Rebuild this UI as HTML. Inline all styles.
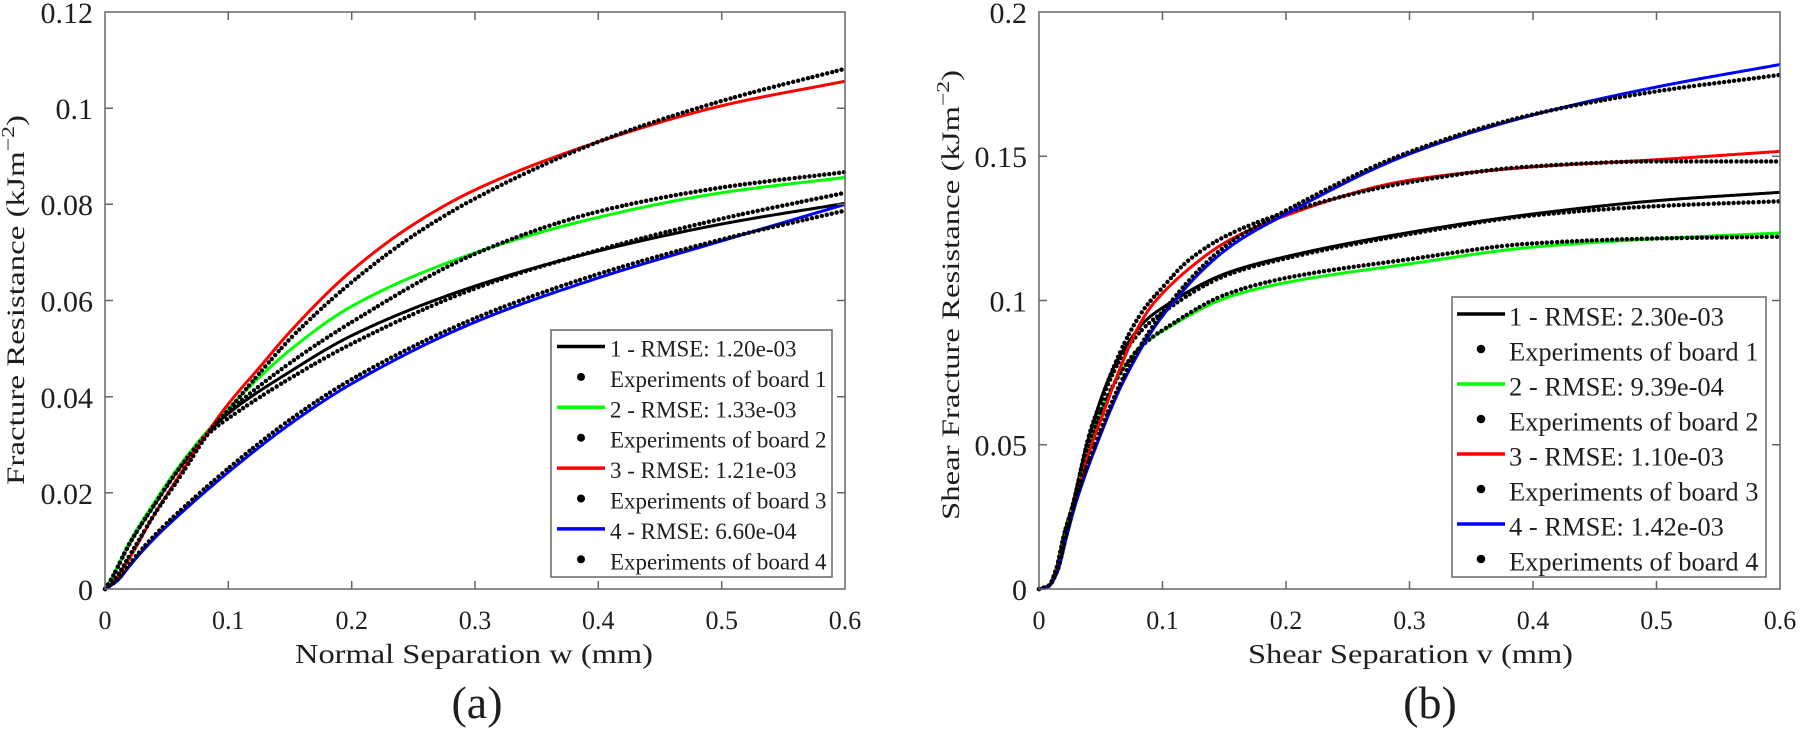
<!DOCTYPE html>
<html><head><meta charset="utf-8">
<style>
html,body{margin:0;padding:0;background:#fff;}
svg{display:block;}
text{font-family:"Liberation Serif","Times New Roman",serif;fill:#1e1e1e;}
</style></head>
<body>
<svg id="s" width="1801" height="732" viewBox="0 0 1801 732" xmlns="http://www.w3.org/2000/svg">
<rect x="0" y="0" width="1801" height="732" fill="#fff"/>
<g id="curvesL"></g>
<g id="curvesR"></g>

<!-- Left axes -->
<g stroke="#666" stroke-width="1.5" fill="none">
  <rect x="105" y="12" width="740" height="577"/>
  <path d="M228.3 589v-8M351.7 589v-8M475 589v-8M598.3 589v-8M721.7 589v-8
           M228.3 12v8M351.7 12v8M475 12v8M598.3 12v8M721.7 12v8
           M105 492.8h8M105 396.7h8M105 300.5h8M105 204.3h8M105 108.2h8
           M845 492.8h-8M845 396.7h-8M845 300.5h-8M845 204.3h-8M845 108.2h-8"/>
</g>
<!-- Right axes -->
<g stroke="#666" stroke-width="1.5" fill="none">
  <rect x="1039" y="12" width="741" height="577"/>
  <path d="M1162.5 589v-8M1286 589v-8M1409.5 589v-8M1533 589v-8M1656.5 589v-8
           M1162.5 12v8M1286 12v8M1409.5 12v8M1533 12v8M1656.5 12v8
           M1039 444.75h8M1039 300.5h8M1039 156.25h8
           M1780 444.75h-8M1780 300.5h-8M1780 156.25h-8"/>
</g>

<!-- Left y tick labels -->
<g font-size="30" text-anchor="end">
  <text x="93" y="600">0</text>
  <text x="93" y="504">0.02</text>
  <text x="93" y="408">0.04</text>
  <text x="93" y="311.5">0.06</text>
  <text x="93" y="215">0.08</text>
  <text x="93" y="119">0.1</text>
  <text x="93" y="23">0.12</text>
</g>
<!-- Left x tick labels -->
<g font-size="26" text-anchor="middle">
  <text x="105" y="629">0</text>
  <text x="228.3" y="629">0.1</text>
  <text x="351.7" y="629">0.2</text>
  <text x="475" y="629">0.3</text>
  <text x="598.3" y="629">0.4</text>
  <text x="721.7" y="629">0.5</text>
  <text x="845" y="629">0.6</text>
</g>
<!-- Right y tick labels -->
<g font-size="30" text-anchor="end">
  <text x="1027" y="600">0</text>
  <text x="1027" y="455.5">0.05</text>
  <text x="1027" y="311.5">0.1</text>
  <text x="1027" y="167">0.15</text>
  <text x="1027" y="23">0.2</text>
</g>
<!-- Right x tick labels -->
<g font-size="26" text-anchor="middle">
  <text x="1039" y="629">0</text>
  <text x="1162.5" y="629">0.1</text>
  <text x="1286" y="629">0.2</text>
  <text x="1409.5" y="629">0.3</text>
  <text x="1533" y="629">0.4</text>
  <text x="1656.5" y="629">0.5</text>
  <text x="1780" y="629">0.6</text>
</g>

<!-- Axis labels -->
<text x="295" y="663" font-size="27" textLength="358" lengthAdjust="spacingAndGlyphs">Normal Separation w (mm)</text>
<text x="1248" y="663" font-size="27" textLength="325" lengthAdjust="spacingAndGlyphs">Shear Separation v (mm)</text>
<text transform="translate(24,485) rotate(-90)" font-size="25" textLength="370" lengthAdjust="spacingAndGlyphs">Fracture Resistance (kJm<tspan dy="-10" font-size="18">−2</tspan><tspan dy="10">)</tspan></text>
<text transform="translate(959,520) rotate(-90)" font-size="25" textLength="450" lengthAdjust="spacingAndGlyphs">Shear Fracture Resistance (kJm<tspan dy="-10" font-size="18">−2</tspan><tspan dy="10">)</tspan></text>

<text x="477" y="718" font-size="46" text-anchor="middle">(a)</text>
<text x="1430" y="718" font-size="46" text-anchor="middle">(b)</text>

<!-- Left legend -->
<g>
  <rect x="551" y="330" width="281" height="247" fill="#fff" stroke="#666" stroke-width="1.5"/>
  <g stroke-width="3.5">
    <line x1="557" y1="346.5" x2="605" y2="346.5" stroke="#000"/>
    <line x1="557" y1="407.3" x2="605" y2="407.3" stroke="#00ff00"/>
    <line x1="557" y1="468.1" x2="605" y2="468.1" stroke="#ff0000"/>
    <line x1="557" y1="528.9" x2="605" y2="528.9" stroke="#0000ff"/>
  </g>
  <g fill="#000">
    <circle cx="581" cy="376.9" r="4"/>
    <circle cx="581" cy="437.7" r="4"/>
    <circle cx="581" cy="498.5" r="4"/>
    <circle cx="581" cy="559.3" r="4"/>
  </g>
  <g font-size="23">
    <text x="610" y="356.5">1 - RMSE: 1.20e-03</text>
    <text x="610" y="386.9">Experiments of board 1</text>
    <text x="610" y="417.3">2 - RMSE: 1.33e-03</text>
    <text x="610" y="447.7">Experiments of board 2</text>
    <text x="610" y="478.1">3 - RMSE: 1.21e-03</text>
    <text x="610" y="508.5">Experiments of board 3</text>
    <text x="610" y="538.9">4 - RMSE: 6.60e-04</text>
    <text x="610" y="569.3">Experiments of board 4</text>
  </g>
</g>

<!-- Right legend -->
<g>
  <rect x="1452" y="297" width="314" height="280" fill="#fff" stroke="#666" stroke-width="1.5"/>
  <g stroke-width="3.5">
    <line x1="1457" y1="314" x2="1505" y2="314" stroke="#000"/>
    <line x1="1457" y1="384" x2="1505" y2="384" stroke="#00ff00"/>
    <line x1="1457" y1="454" x2="1505" y2="454" stroke="#ff0000"/>
    <line x1="1457" y1="524" x2="1505" y2="524" stroke="#0000ff"/>
  </g>
  <g fill="#000">
    <circle cx="1481" cy="349" r="4.3"/>
    <circle cx="1481" cy="419" r="4.3"/>
    <circle cx="1481" cy="489" r="4.3"/>
    <circle cx="1481" cy="559" r="4.3"/>
  </g>
  <g font-size="26.5">
    <text x="1509" y="325.5">1 - RMSE: 2.30e-03</text>
    <text x="1509" y="360.5">Experiments of board 1</text>
    <text x="1509" y="395.5">2 - RMSE: 9.39e-04</text>
    <text x="1509" y="430.5">Experiments of board 2</text>
    <text x="1509" y="465.5">3 - RMSE: 1.10e-03</text>
    <text x="1509" y="500.5">Experiments of board 3</text>
    <text x="1509" y="535.5">4 - RMSE: 1.42e-03</text>
    <text x="1509" y="570.5">Experiments of board 4</text>
  </g>
</g>
</svg>
<script>
(function(){
var NS="http://www.w3.org/2000/svg";
function mono(pts){
  var n=pts.length,xs=[],ys=[],d=[],m=[],i;
  for(i=0;i<n;i++){xs.push(pts[i][0]);ys.push(pts[i][1]);}
  for(i=0;i<n-1;i++) d.push((ys[i+1]-ys[i])/(xs[i+1]-xs[i]));
  m[0]=d[0]; m[n-1]=d[n-2];
  for(i=1;i<n-1;i++){
    if(d[i-1]*d[i]<=0){m[i]=0;}
    else{
      var h0=xs[i]-xs[i-1],h1=xs[i+1]-xs[i];
      var w1=2*h1+h0,w2=h1+2*h0;
      m[i]=(w1+w2)/(w1/d[i-1]+w2/d[i]);
    }
  }
  return function(x){
    var k=0; while(k<n-2 && x>xs[k+1]) k++;
    var h=xs[k+1]-xs[k],t=(x-xs[k])/h,t2=t*t,t3=t2*t;
    return (2*t3-3*t2+1)*ys[k]+(t3-2*t2+t)*h*m[k]+(-2*t3+3*t2)*ys[k+1]+(t3-t2)*h*m[k+1];
  };
}
function draw(g,P,pts,color,isDots){
  var f=mono(pts),N=1500,arr=[],i;
  for(i=0;i<=N;i++){
    var x=P.xmax*i/N,y=f(x); if(y<0)y=0;
    arr.push([P.x0+(P.x1-P.x0)*x/P.xmax, P.y0-(P.y0-P.y1)*y/P.ymax]);
  }
  if(!isDots){
    var d="M"+arr[0][0].toFixed(2)+" "+arr[0][1].toFixed(2);
    for(i=1;i<arr.length;i+=3) d+="L"+arr[i][0].toFixed(2)+" "+arr[i][1].toFixed(2);
    d+="L"+arr[N][0].toFixed(2)+" "+arr[N][1].toFixed(2);
    var p=document.createElementNS(NS,"path");
    p.setAttribute("d",d);p.setAttribute("fill","none");p.setAttribute("stroke",color);
    p.setAttribute("stroke-width","3");p.setAttribute("stroke-linejoin","round");
    g.appendChild(p);
  }else{
    var acc=0,step=5,next=0;
    for(i=0;i<arr.length;i++){
      if(i>0){var dx=arr[i][0]-arr[i-1][0],dy=arr[i][1]-arr[i-1][1];acc+=Math.sqrt(dx*dx+dy*dy);}
      if(acc>=next){
        var c=document.createElementNS(NS,"circle");
        c.setAttribute("cx",arr[i][0].toFixed(2));c.setAttribute("cy",arr[i][1].toFixed(2));
        c.setAttribute("r","2.2");c.setAttribute("fill","#000");g.appendChild(c);
        next+=step;
      }
    }
  }
}
var L={x0:105,x1:845,y0:589,y1:12,xmax:0.6,ymax:0.12};
var R={x0:1039,x1:1780,y0:589,y1:12,xmax:0.6,ymax:0.2};
var gL=document.getElementById("curvesL"),gR=document.getElementById("curvesR");

var early=[[0,0],[0.005,0.002],[0.02,0.0095],[0.04,0.0175],[0.06,0.025]];
var Lfit1=early.concat([[0.087,0.0335],[0.1,0.0365],[0.15,0.0452],[0.2,0.0527],[0.3,0.063],[0.4,0.0703],[0.5,0.0759],[0.6,0.0802]]);
var Lexp1=early.concat([[0.087,0.033],[0.1,0.0355],[0.15,0.0438],[0.2,0.051],[0.3,0.0625],[0.4,0.0705],[0.5,0.077],[0.6,0.0824]]);
var Lfit2=[[0,0],[0.005,0.002],[0.02,0.0098],[0.04,0.018],[0.06,0.0255],[0.087,0.034],[0.1,0.0375],[0.125,0.044],[0.15,0.0497],[0.2,0.0588],[0.3,0.0699],[0.4,0.0773],[0.5,0.0824],[0.6,0.0856]];
var Lexp2=early.concat([[0.087,0.0335],[0.1,0.0368],[0.15,0.047],[0.2,0.0555],[0.3,0.0697],[0.4,0.0785],[0.5,0.0835],[0.6,0.0867]]);
var Lfit3=[[0,0],[0.005,0.001],[0.02,0.0065],[0.04,0.0155],[0.06,0.0235],[0.087,0.034],[0.1,0.0385],[0.125,0.046],[0.15,0.0535],[0.2,0.0662],[0.25,0.0758],[0.3,0.083],[0.4,0.093],[0.5,0.1005],[0.6,0.1056]];
var Lexp3=[[0,0],[0.005,0.001],[0.02,0.007],[0.04,0.0155],[0.06,0.023],[0.087,0.0335],[0.1,0.0372],[0.125,0.0448],[0.15,0.052],[0.2,0.0638],[0.25,0.0735],[0.3,0.0812],[0.4,0.093],[0.5,0.1015],[0.6,0.1082]];
var Lfit4=[[0,0],[0.01,0.0017],[0.02,0.0048],[0.03,0.0078],[0.045,0.0118],[0.0687,0.0174],[0.1,0.0243],[0.15,0.0343],[0.2,0.0427],[0.3,0.0555],[0.4,0.0647],[0.5,0.0724],[0.6,0.080]];
var Lexp4=[[0,0],[0.01,0.0019],[0.02,0.0052],[0.03,0.0083],[0.045,0.0124],[0.0687,0.0181],[0.1,0.0251],[0.15,0.0352],[0.2,0.0436],[0.3,0.0563],[0.4,0.0655],[0.5,0.0727],[0.6,0.0787]];

draw(gL,L,Lfit1,"#000",false);draw(gL,L,Lexp1,"#000",true);
draw(gL,L,Lfit2,"#00ff00",false);draw(gL,L,Lexp2,"#000",true);
draw(gL,L,Lfit3,"#ff0000",false);draw(gL,L,Lexp3,"#000",true);
draw(gL,L,Lfit4,"#0000ff",false);draw(gL,L,Lexp4,"#000",true);

var Rfit1=[[0,0],[0.008,0.0012],[0.014,0.007],[0.02,0.0185],[0.0275,0.0298],[0.0386,0.05],[0.056,0.0725],[0.065,0.0805],[0.074,0.0865],[0.085,0.0925],[0.1,0.0975],[0.152,0.1095],[0.2,0.1152],[0.3,0.1236],[0.4,0.130],[0.5,0.1346],[0.6,0.1375]];
var Rexp1=[[0,0],[0.008,0.0012],[0.014,0.007],[0.02,0.0185],[0.028,0.030],[0.039,0.05],[0.056,0.071],[0.065,0.079],[0.074,0.085],[0.085,0.0905],[0.1,0.0958],[0.152,0.1088],[0.2,0.1146],[0.3,0.123],[0.4,0.1295],[0.5,0.1327],[0.6,0.1344]];
var Rfit2=[[0,0],[0.008,0.0012],[0.014,0.007],[0.021,0.018],[0.028,0.030],[0.041,0.0498],[0.05,0.0615],[0.06,0.0705],[0.07,0.0775],[0.08,0.083],[0.09,0.0867],[0.1,0.0894],[0.152,0.101],[0.2,0.1062],[0.3,0.1127],[0.4,0.1185],[0.5,0.1214],[0.6,0.1234]];
var Rexp2=[[0,0],[0.008,0.0012],[0.014,0.007],[0.021,0.018],[0.028,0.030],[0.041,0.0498],[0.05,0.0615],[0.06,0.0705],[0.07,0.0775],[0.08,0.083],[0.09,0.0867],[0.1,0.0897],[0.152,0.1022],[0.2,0.1078],[0.3,0.1143],[0.4,0.1198],[0.5,0.1215],[0.6,0.1221]];
var Rfit3=[[0,0],[0.008,0.0012],[0.014,0.0065],[0.021,0.0175],[0.029,0.030],[0.0426,0.05],[0.05,0.0585],[0.062,0.0725],[0.07,0.081],[0.08,0.0905],[0.09,0.0975],[0.1,0.1025],[0.12,0.1105],[0.152,0.1204],[0.2,0.1295],[0.3,0.1417],[0.4,0.1463],[0.5,0.1488],[0.6,0.1517]];
var Rexp3=[[0,0],[0.008,0.0012],[0.014,0.0068],[0.021,0.018],[0.029,0.032],[0.041,0.054],[0.0494,0.0643],[0.055,0.071],[0.07,0.086],[0.085,0.097],[0.1,0.1045],[0.12,0.1135],[0.152,0.1225],[0.2,0.1305],[0.3,0.141],[0.4,0.1465],[0.5,0.1482],[0.6,0.1482]];
var Rfit4=[[0,0],[0.008,0.001],[0.015,0.006],[0.022,0.0175],[0.030,0.030],[0.0467,0.05],[0.069,0.0725],[0.1,0.0946],[0.152,0.1178],[0.2,0.130],[0.3,0.1508],[0.4,0.1643],[0.5,0.174],[0.6,0.1818]];
var Rexp4=[[0,0],[0.008,0.0012],[0.015,0.0066],[0.022,0.0185],[0.030,0.0315],[0.0467,0.0515],[0.069,0.074],[0.1,0.0958],[0.152,0.1192],[0.2,0.1312],[0.3,0.1515],[0.4,0.1645],[0.5,0.1725],[0.6,0.1782]];

draw(gR,R,Rfit1,"#000",false);draw(gR,R,Rexp1,"#000",true);
draw(gR,R,Rfit2,"#00ff00",false);draw(gR,R,Rexp2,"#000",true);
draw(gR,R,Rfit3,"#ff0000",false);draw(gR,R,Rexp3,"#000",true);
draw(gR,R,Rfit4,"#0000ff",false);draw(gR,R,Rexp4,"#000",true);
})();
</script>
</body></html>
